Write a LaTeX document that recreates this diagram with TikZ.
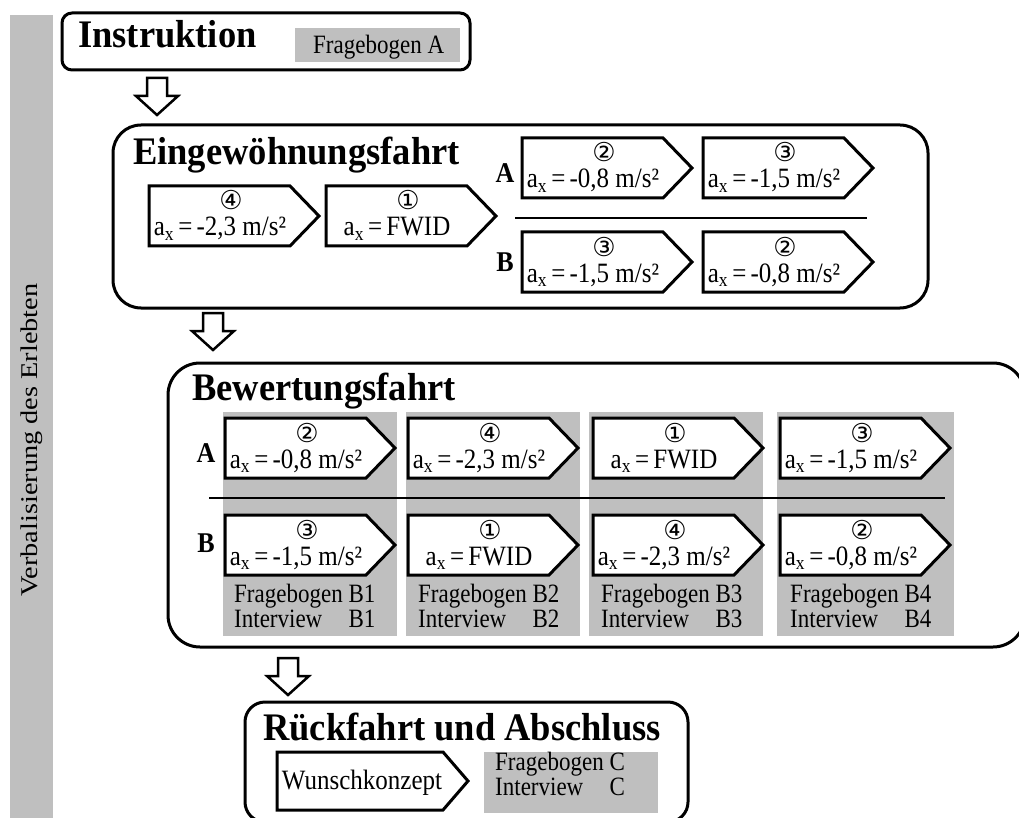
\documentclass[tikz,border=0pt]{standalone}
\usepackage{fontspec}
\setmainfont{Liberation Serif}
\newfontfamily\circfont{DejaVu Sans}
\usepackage{graphicx}
\definecolor{panel}{RGB}{191,191,191}

\tikzset{
  stage/.style={draw, line width=3pt, rounded corners=#1, inner sep=0pt},
  pent/.style={draw, fill=white, line width=3pt, line join=miter},
  sepline/.style={line width=2pt},
  blockarrow/.style={draw, fill=white, line width=2.5pt, line join=miter},
  tall/.style={yscale=#1, transform shape},
  title/.style={font=\fontsize{36.5}{40}\selectfont\bfseries, anchor=base west, inner sep=0pt, tall=1.07},
  val/.style={font=\fontsize{25}{28}\selectfont, anchor=base, inner sep=0pt, tall=1.12},
  num/.style={font=\circfont\fontsize{26}{28}\selectfont, inner sep=0pt, anchor=base},
  rowlab/.style={font=\fontsize{26}{28}\selectfont\bfseries, inner sep=0pt, tall=1.1},
  small/.style={font=\fontsize{23}{21}\selectfont, inner sep=0pt, anchor=base west, tall=1.15},
}

% a_x = value
\newcommand\axval[1]{a\textsubscript{x}\,=\,#1}

% pentagon tag: #1 name, #2 left, #3 top, #4 circled digit, #5 value
\newcommand\accbox[5]{%
  \draw[pent] (#2,#3) -- ++(141,0) -- ++(29,30) -- ++(-29,30) -- ++(-141,0) -- cycle;
  \node[num] (#1-n) at (#2+82,#3+24) {#4};
  \node[val] (#1-v) at (#2+71,#3+50) {#5};
}

% hollow down arrow: #1 centre x, #2 top y
\newcommand\hollowdown[2]{%
  \draw[blockarrow] (#1-10,#2) -- (#1+10,#2) -- (#1+10,#2+18) -- (#1+21,#2+18)
    -- (#1,#2+37) -- (#1-21,#2+18) -- (#1-10,#2+18) -- cycle;
}

\begin{document}
\begin{tikzpicture}[x=1pt, y=-1pt]
\useasboundingbox (0,0) rectangle (1019,818);
\clip (0,0) rectangle (1019,818);

% side bar
\fill[panel] (10,15) rectangle (53,830);
\node[rotate=90, font=\fontsize{24}{26}\selectfont, inner sep=0pt] (verb) at (32,440)
  {\scalebox{1.18}[1]{Verbalisierung des Erlebten}};

% ---------- Instruktion ----------
\node[stage=10pt, minimum width=408pt, minimum height=57pt] (instr) at (266,41.5) {};
\node[title] (instr-t) at (78,48) {Instruktion};
\fill[panel] (295,28) rectangle (460,62);
\node[small] (fbA) at (313,54) {Fragebogen A};

\hollowdown{157}{78}

% ---------- Eingewoehnungsfahrt ----------
\node[stage=28pt, minimum width=815pt, minimum height=183pt] (eing) at (520.5,216.5) {};
\node[title] (eing-t) at (133,165) {Eingewöhnungsfahrt};
\accbox{e1}{149}{186}{④}{\axval{-2,3 m/s²}}
\accbox{e2}{326}{186}{①}{\axval{FWID}}
\node[rowlab] (eA) at (505,173) {A};
\node[rowlab] (eB) at (505,262) {B};
\accbox{eA1}{522}{138}{②}{\axval{-0,8 m/s²}}
\accbox{eA2}{703}{138}{③}{\axval{-1,5 m/s²}}
\draw[sepline] (515,218) -- (867,218);
\accbox{eB1}{522}{232}{③}{\axval{-1,5 m/s²}}
\accbox{eB2}{703}{232}{②}{\axval{-0,8 m/s²}}

\hollowdown{213}{313}

% ---------- Bewertungsfahrt ----------
\node[stage=32pt, minimum width=857pt, minimum height=284pt] (bew) at (596.5,505) {};
\node[title] (bew-t) at (192,400) {Bewertungsfahrt};
\fill[panel] (223,412) rectangle (397,636);
\fill[panel] (406,412) rectangle (580,636);
\fill[panel] (589,412) rectangle (763,636);
\fill[panel] (777,412) rectangle (954,636);
\node[rowlab] (bA) at (206,453) {A};
\node[rowlab] (bB) at (206,543) {B};
\accbox{bA1}{225}{418}{②}{\axval{-0,8 m/s²}}
\accbox{bA2}{408}{418}{④}{\axval{-2,3 m/s²}}
\accbox{bA3}{593}{418}{①}{\axval{FWID}}
\accbox{bA4}{780}{418}{③}{\axval{-1,5 m/s²}}
\draw[sepline] (209,498) -- (945,498);
\accbox{bB1}{225}{515}{③}{\axval{-1,5 m/s²}}
\accbox{bB2}{408}{515}{①}{\axval{FWID}}
\accbox{bB3}{593}{515}{④}{\axval{-2,3 m/s²}}
\accbox{bB4}{780}{515}{②}{\axval{-0,8 m/s²}}
\node[small] (q1) at (234,602.5) {\begin{tabular}[t]{@{}l@{ }l@{}}Fragebogen & B1\\ Interview & B1\end{tabular}};
\node[small] (q2) at (418,602.5) {\begin{tabular}[t]{@{}l@{ }l@{}}Fragebogen & B2\\ Interview & B2\end{tabular}};
\node[small] (q3) at (601,602.5) {\begin{tabular}[t]{@{}l@{ }l@{}}Fragebogen & B3\\ Interview & B3\end{tabular}};
\node[small] (q4) at (790,602.5) {\begin{tabular}[t]{@{}l@{ }l@{}}Fragebogen & B4\\ Interview & B4\end{tabular}};

\hollowdown{288}{658}

% ---------- Rueckfahrt und Abschluss ----------
\node[stage=20pt, minimum width=443pt, minimum height=120pt] (rueck) at (466.5,762) {};
\node[title] (rueck-t) at (263,740) {Rückfahrt und Abschluss};
\draw[pent] (277,752) -- (443,752) -- (468,781) -- (443,810) -- (277,810) -- cycle;
\node[val, anchor=center] (wunsch) at (362,783) {Wunschkonzept};
\fill[panel] (484,752) rectangle (658,813);
\node[small] (qC) at (495,770.5) {\begin{tabular}[t]{@{}l@{ }l@{}}Fragebogen & C\\ Interview & C\end{tabular}};
\end{tikzpicture}
\end{document}
